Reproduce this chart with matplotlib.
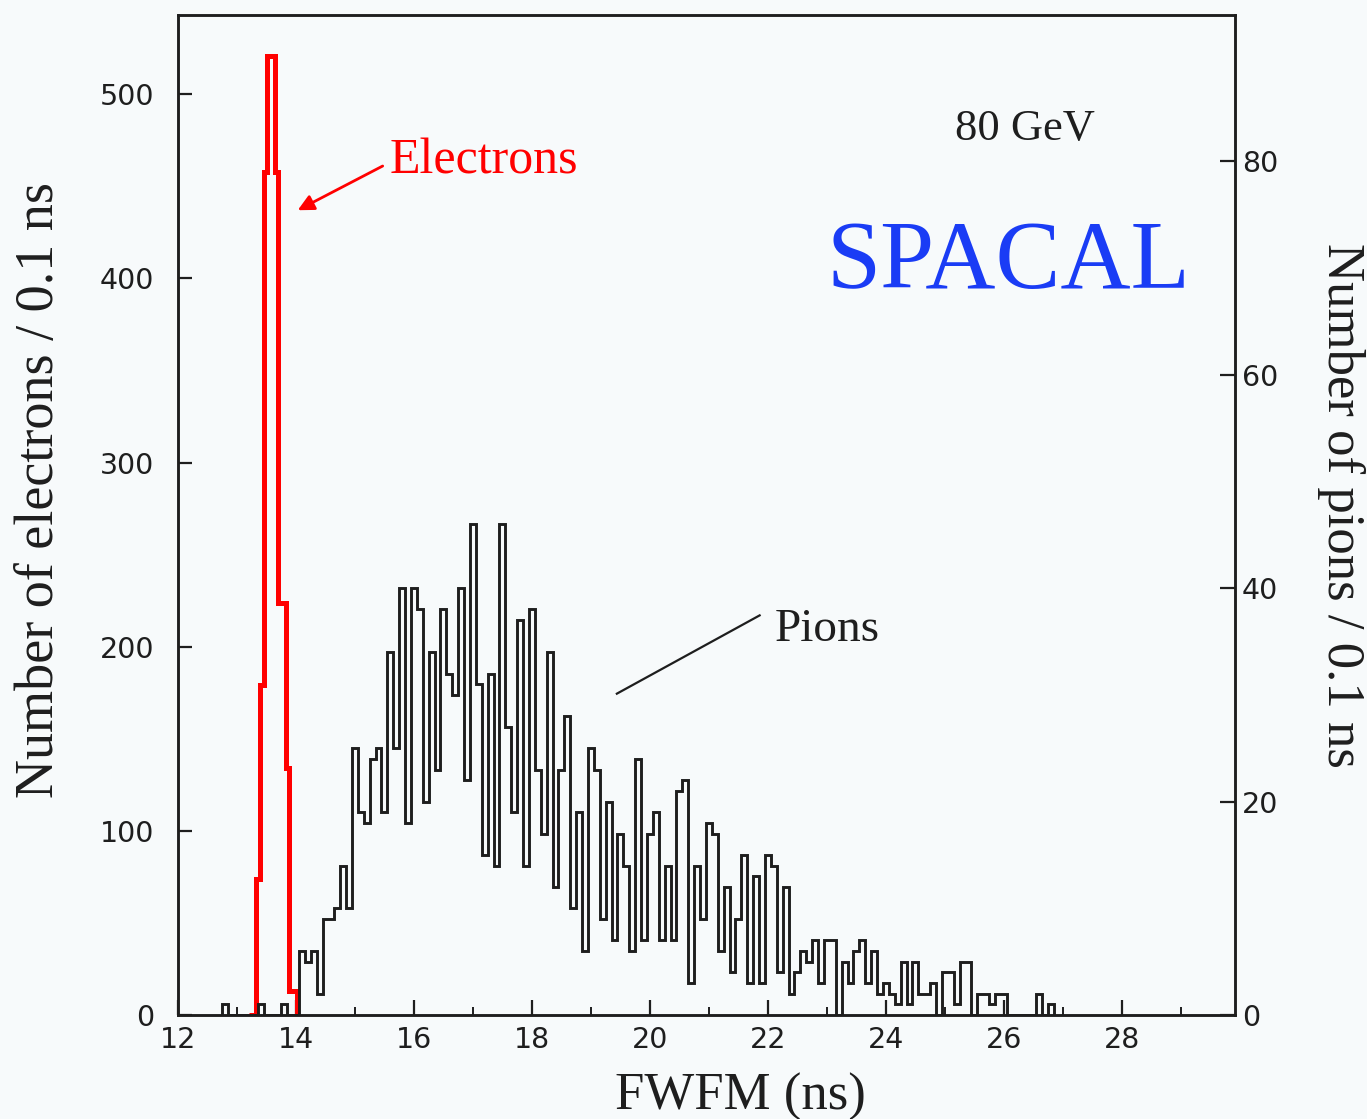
import numpy as np
import matplotlib.pyplot as plt

# electron peak: step edges (ns) and counts per bin
el_edges = [13.20, 13.32, 13.39, 13.46, 13.51, 13.64, 13.69, 13.83, 13.88, 14.02, 14.05]
el_counts = [0, 74, 179, 458, 521, 458, 224, 134, 13, 0]

# pion FWFM distribution, 0.1 ns bins starting at 12.75 ns
pion_lo = 12.75
pion_counts = [
    1, 0, 0, 0, 0, 0, 1, 0, 0, 0, 1, 0, 0,              # 12.8 - 14.0
    6, 5, 6, 2, 9, 9, 10, 14, 10, 25,                   # 14.1 - 15.0
    19, 18, 24, 25, 19, 34, 25, 40, 18, 40,             # 15.1 - 16.0
    38, 20, 34, 23, 38, 32, 30, 40, 22, 46,             # 16.1 - 17.0
    31, 15, 32, 14, 46, 27, 19, 37, 14, 38,             # 17.1 - 18.0
    23, 17, 34, 12, 23, 28, 10, 19, 6, 25,              # 18.1 - 19.0
    23, 9, 20, 7, 17, 14, 6, 24, 7, 17,                 # 19.1 - 20.0
    19, 7, 14, 7, 21, 22, 3, 14, 9, 18,                 # 20.1 - 21.0
    17, 6, 12, 4, 9, 15, 3, 13, 3, 15,                  # 21.1 - 22.0
    14, 4, 12, 2, 4, 6, 5, 7, 3, 7,                     # 22.1 - 23.0
    7, 0, 5, 3, 6, 7, 3, 6, 2, 3,                       # 23.1 - 24.0
    2, 1, 5, 1, 5, 2, 2, 3, 0, 4,                       # 24.1 - 25.0
    4, 1, 5, 5, 0, 2, 2, 1, 2, 2,                       # 25.1 - 26.0
    0, 0, 0, 0, 0, 2, 0, 1,                             # 26.1 - 26.8
]
pion_edges = pion_lo + 0.1 * np.arange(len(pion_counts) + 1)

x_major = [12, 14, 16, 18, 20, 22, 24, 26, 28]
x_minor = [13, 15, 17, 19, 21, 23, 25, 27, 29]
el_ticks = [0, 100, 200, 300, 400, 500]
pion_ticks = [0, 20, 40, 60, 80]

bg = '#f7fafb'
ink = '#1e1e1e'
serif = ['Liberation Serif', 'DejaVu Serif']

fig = plt.figure(figsize=(13.67, 11.19), dpi=100, facecolor=bg)
ax = fig.add_axes([0.1302, 0.0929, 0.7733, 0.8937])
ax.set_facecolor(bg)
ax2 = ax.twinx()

ax.stairs(el_counts, el_edges, color='#ff0000', lw=3.6, zorder=3)
ax2.stairs(pion_counts, pion_edges, color=ink, lw=2.1, zorder=2)

ax.set_xlim(12, 29.92)
ax.set_ylim(0, 543)
ax2.set_ylim(0, 93.7)

ax.set_xticks(x_major)
ax.set_xticks(x_minor, minor=True)
ax.set_yticks(el_ticks)
ax2.set_yticks(pion_ticks)

for a in (ax, ax2):
    for s in a.spines.values():
        s.set_linewidth(1.8)
        s.set_color(ink)
ax.tick_params(axis='x', which='major', direction='in', length=11, width=1.6,
               pad=8, labelsize=20.5, colors=ink)
ax.tick_params(axis='x', which='minor', direction='in', length=6, width=1.4, colors=ink)
ax.tick_params(axis='y', direction='in', length=10, width=1.6, pad=17,
               labelsize=20.5, colors=ink)
ax2.tick_params(axis='y', direction='in', length=11, width=1.6, pad=5,
                labelsize=20.5, colors=ink)

ax.set_xlabel('FWFM (ns)', family=serif, fontsize=38, color=ink)
ax.xaxis.set_label_coords(0.532, -0.082)
ax.xaxis.label.set_va('center')
ax.set_ylabel('Number of electrons / 0.1 ns', family=serif, fontsize=39,
              color=ink, va='center')
ax.yaxis.set_label_coords(-0.131, 0.525)
ax2.set_ylabel('Number of pions / 0.1 ns', family=serif, fontsize=38,
               color=ink, rotation=270, va='center')
ax2.yaxis.set_label_coords(1.1, 0.51)

# labels inside the frame
ax.text(15.58, 457, 'Electrons', family=serif, fontsize=36, color='#ff0000',
        ha='left', va='baseline')
ax.annotate('', xy=(14.03, 437), xytext=(15.47, 461),
            arrowprops=dict(arrowstyle='-|>', color='#ff0000', lw=2,
                            mutation_scale=24, shrinkA=0, shrinkB=0))
ax.text(22.12, 203, 'Pions', family=serif, fontsize=34, color=ink,
        ha='left', va='baseline')
ax.plot([21.86, 19.44], [217, 174.5], color=ink, lw=1.6)
ax.text(25.17, 475, '80 GeV', family=serif, fontsize=32, color=ink,
        ha='left', va='baseline')
ax.text(23.0, 394.5, 'SPACAL', family=serif, fontsize=70, color='#1a3cf5',
        ha='left', va='baseline')

fig.savefig('out.png', dpi=100, facecolor=bg)
